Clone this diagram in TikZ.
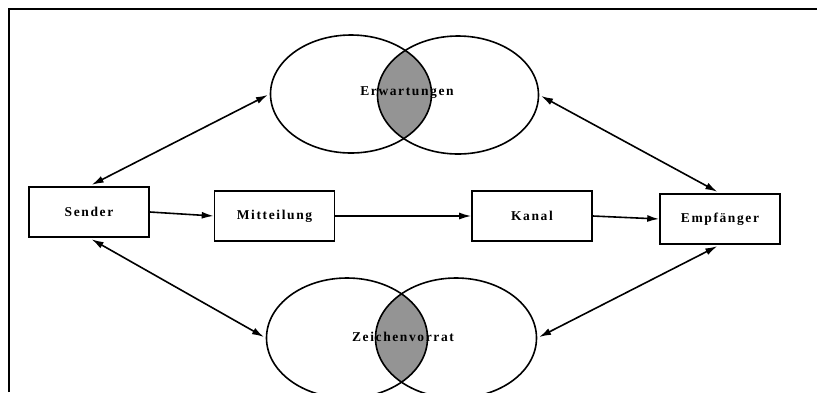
\documentclass[tikz,border=0pt]{standalone}
\usepackage{fontspec}
\newfontfamily\lblfont{Liberation Serif}[LetterSpace=12]
\usetikzlibrary{arrows.meta,shapes.geometric}
\tikzset{
    mybox/.style={draw=black,line width=1.6pt,minimum width=120pt,minimum height=50pt,inner sep=0pt},
    myoval/.style={ellipse,draw=black,line width=1.6pt,minimum width=161pt,minimum height=118pt,inner sep=0pt},
    mylens/.style={fill=black!42},
    myarrow/.style={line width=1.6pt,-{Latex[length=12pt,width=7pt]}},
    mydarrow/.style={line width=1.6pt,{Latex[length=12pt,width=7pt]}-{Latex[length=12pt,width=7pt]},shorten <=3pt,shorten >=2pt},
    every node/.style={font=\lblfont\bfseries\fontsize{13.5}{15}\selectfont}
}

\begin{document}
\begin{tikzpicture}[x=1pt,y=-1pt]
    \useasboundingbox (0,0) rectangle (817,392);

    % 边框
    \draw[line width=2.5pt] (9,392) -- (9,9) -- (817,9);

    % 椭圆中心
    \coordinate (cEL) at (351,94);
    \coordinate (cER) at (458,95);
    \coordinate (cZL) at (347,338);
    \coordinate (cZR) at (456,338);

    % 交集阴影
    \begin{scope}
        \clip (cEL) ellipse [x radius=80.5pt,y radius=59pt];
        \fill[mylens] (cER) ellipse [x radius=80.5pt,y radius=59pt];
    \end{scope}
    \begin{scope}
        \clip (cZL) ellipse [x radius=80.5pt,y radius=60pt];
        \fill[mylens] (cZR) ellipse [x radius=80.5pt,y radius=60pt];
    \end{scope}

    % 椭圆
    \node[myoval] (erwL) at (cEL) {};
    \node[myoval] (erwR) at (cER) {};
    \node[myoval,minimum height=120pt] (zeiL) at (cZL) {};
    \node[myoval,minimum height=120pt] (zeiR) at (cZR) {};

    \node (erw) at (407,93) {Erwartungen};
    \node (zei) at (403,337) {Zeichenvorrat};

    % 方框
    \node[mybox] (sender) at (89,212) {Sender};
    \node[mybox] (mitt) at (274.5,216) {Mitteilung};
    \node[mybox] (kanal) at (532,216) {Kanal};
    \node[mybox] (empf) at (720,219) {Empfänger};

    % 水平箭头
    \draw[myarrow] (sender.east) -- (mitt.west);
    \draw[myarrow] (mitt.east) -- (kanal.west);
    \draw[myarrow] (kanal.east) -- (empf.west);

    % 双向箭头
    \draw[mydarrow] (sender.north) -- (erwL.west);
    \draw[mydarrow] (empf.north) -- (erwR.east);
    \draw[mydarrow] (sender.south) -- (zeiL.west);
    \draw[mydarrow] (empf.south) -- (zeiR.east);
\end{tikzpicture}
\end{document}
